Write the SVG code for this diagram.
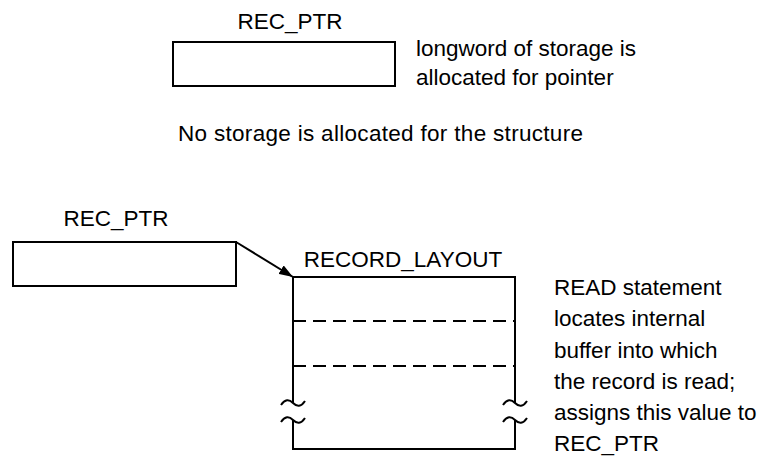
<svg xmlns="http://www.w3.org/2000/svg" width="761" height="458" viewBox="0 0 761 458">
<style>
text{font-family:"Liberation Sans",Arial,sans-serif;font-size:22.5px;fill:#000}
.box{fill:none;stroke:#000;stroke-width:2}
.ln{fill:none;stroke:#000;stroke-width:2}
.dash{fill:none;stroke:#000;stroke-width:2;stroke-dasharray:13 7}
</style>
<defs>
<marker id="ah" viewBox="0 0 14 10" refX="14" refY="5" markerWidth="14" markerHeight="10" markerUnits="userSpaceOnUse" orient="auto">
<path d="M0,0 L14,5 L0,10 z" fill="#000"/>
</marker>
</defs>
<rect width="761" height="458" fill="#fff"/>
<g id="ptr-top">
<text x="290" y="29" text-anchor="middle">REC_PTR</text>
<rect class="box" x="173" y="42" width="222" height="44"/>
</g>
<g id="note-top">
<text x="416" y="56">longword of storage is</text>
<text x="416" y="85">allocated for pointer</text>
</g>
<g id="note-mid">
<text x="178" y="141" textLength="405" lengthAdjust="spacing">No storage is allocated for the structure</text>
</g>
<g id="ptr-bottom">
<text x="116" y="226" text-anchor="middle">REC_PTR</text>
<rect class="box" x="13" y="242" width="223" height="44"/>
</g>
<g id="record-layout">
<text x="403" y="267" text-anchor="middle">RECORD_LAYOUT</text>
<path class="ln" d="M293,403 V277 H515 V403"/>
<path class="ln" d="M293,420 V449 H515 V420"/>
<line class="dash" x1="293" y1="321" x2="515" y2="321"/>
<line class="dash" x1="293" y1="366" x2="515" y2="366"/>
<path class="ln" d="M281,405 C285,399 289,399 293,403 C297,407 301,407 305,401"/>
<path class="ln" d="M281,422 C285,416 289,416 293,420 C297,424 301,424 305,418"/>
<path class="ln" d="M503,405 C507,399 511,399 515,403 C519,407 523,407 527,401"/>
<path class="ln" d="M503,422 C507,416 511,416 515,420 C519,424 523,424 527,418"/>
</g>
<g id="note-read">
<text x="554" y="295">READ statement</text>
<text x="554" y="326">locates internal</text>
<text x="554" y="358">buffer into which</text>
<text x="554" y="389">the record is read;</text>
<text x="554" y="420">assigns this value to</text>
<text x="554" y="451">REC_PTR</text>
</g>
<g id="connectors">
<line class="ln" x1="236" y1="242" x2="293" y2="277" marker-end="url(#ah)"/>
</g>
</svg>
